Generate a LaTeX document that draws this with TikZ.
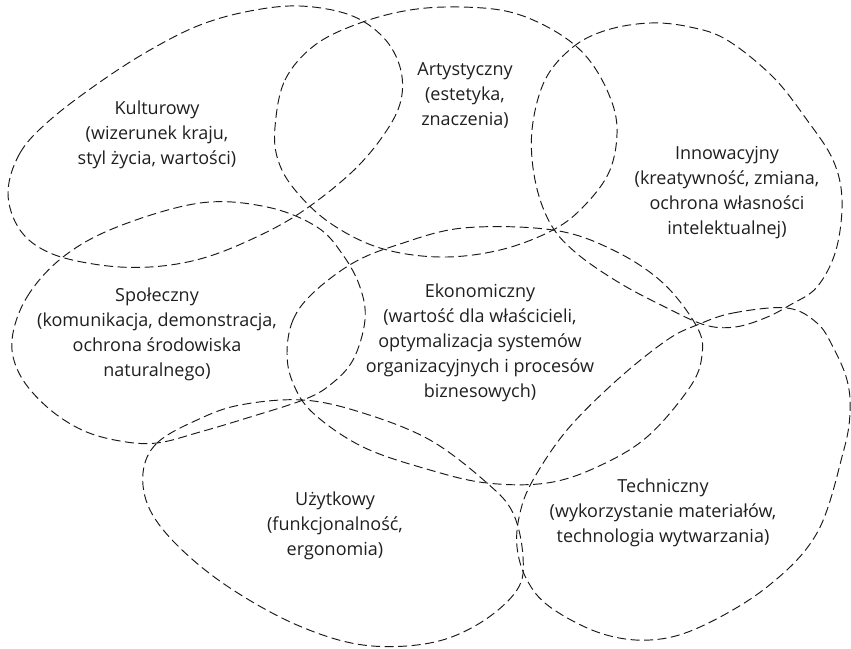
\documentclass[tikz,border=0pt]{standalone}
\usepackage{fontspec}
\setmainfont{Open Sans}
\begin{document}
\begin{tikzpicture}[x=1pt,y=-1pt,
  blob/.style={draw=black!90, line width=0.95pt, dash pattern=on 9pt off 4.5pt},
  lbl/.style={align=center, font=\fontsize{18}{25}\selectfont, text=black!88, inner sep=0pt}]
\useasboundingbox (0,0) rectangle (851,648);
% Kulturowy
\draw[blob] plot[smooth cycle, tension=0.6] coordinates {(8,193) (20,153) (50,120) (100,82) (150,50) (200,25) (250,11) (300,6) (350,15) (383,37) (400,67) (401,100) (385,133) (352,172) (300,213) (250,240) (200,259) (150,267) (100,265) (50,253) (20,230)};
% Artystyczny
\draw[blob] plot[smooth cycle, tension=0.6] coordinates {(275,127) (285,80) (315,45) (360,23) (410,10) (460,7) (510,12) (553,30) (585,55) (607,90) (617,127) (610,170) (585,205) (553,230) (500,250) (440,257) (380,248) (330,223) (295,190) (278,160)};
% Innowacyjny
\draw[blob] plot[smooth cycle, tension=0.6] coordinates {(545,80) (573,47) (607,30) (650,23) (690,27) (727,40) (773,77) (807,120) (833,160) (842,200) (836,250) (817,287) (790,305) (765,318) (735,327) (705,325) (665,307) (618,282) (575,252) (550,223) (535,180) (532,130)};
% Spoleczny
\draw[blob] plot[smooth cycle, tension=0.6] coordinates {(12,340) (27,297) (63,257) (117,227) (200,203) (267,207) (317,227) (343,255) (360,287) (365,320) (353,360) (330,385) (303,400) (247,418) (200,432) (157,443) (120,441) (82,430) (47,407) (20,375)};
% Ekonomiczny
\draw[blob] plot[smooth cycle, tension=0.6] coordinates {(287,353) (293,320) (313,293) (353,263) (397,245) (463,228) (553,230) (613,250) (663,283) (697,327) (702,355) (690,387) (647,437) (597,467) (547,483) (487,483) (430,470) (363,447) (313,413) (293,383)};
% Uzytkowy
\draw[blob] plot[smooth cycle, tension=0.6] coordinates {(143,473) (157,443) (197,420) (240,405) (303,400) (363,413) (430,440) (487,483) (513,513) (523,557) (517,590) (480,623) (430,643) (363,645) (297,625) (230,588) (180,548) (150,510)};
% Techniczny
\draw[blob] plot[smooth cycle, tension=0.6] coordinates {(697,325) (733,313) (787,308) (817,323) (833,347) (847,380) (850,413) (843,453) (817,533) (767,587) (700,627) (650,640) (600,633) (550,607) (527,580) (517,547) (520,513) (533,480) (567,430) (617,380) (667,340)};
% labels
\node[lbl] (kult) at (157,135) {Kulturowy\\(wizerunek kraju,\\styl życia, wartości)};
\node[lbl] (art) at (465,95) {Artystyczny\\(estetyka,\\znaczenia)};
\node[lbl] (inn) at (727,193) {Innowacyjny\\(kreatywność, zmiana,\\ochrona własności\\intelektualnej)};
\node[lbl] (spol) at (157,334) {Społeczny\\(komunikacja, demonstracja,\\ochrona środowiska\\naturalnego)};
\node[lbl] (ekon) at (480,343) {Ekonomiczny\\(wartość dla właścicieli,\\optymalizacja systemów\\organizacyjnych i procesów\\biznesowych)};
\node[lbl] (uzyt) at (335,526) {Użytkowy\\(funkcjonalność,\\ergonomia)};
\node[lbl] (tech) at (663,513) {Techniczny\\(wykorzystanie materiałów,\\technologia wytwarzania)};
\end{tikzpicture}
\end{document}
